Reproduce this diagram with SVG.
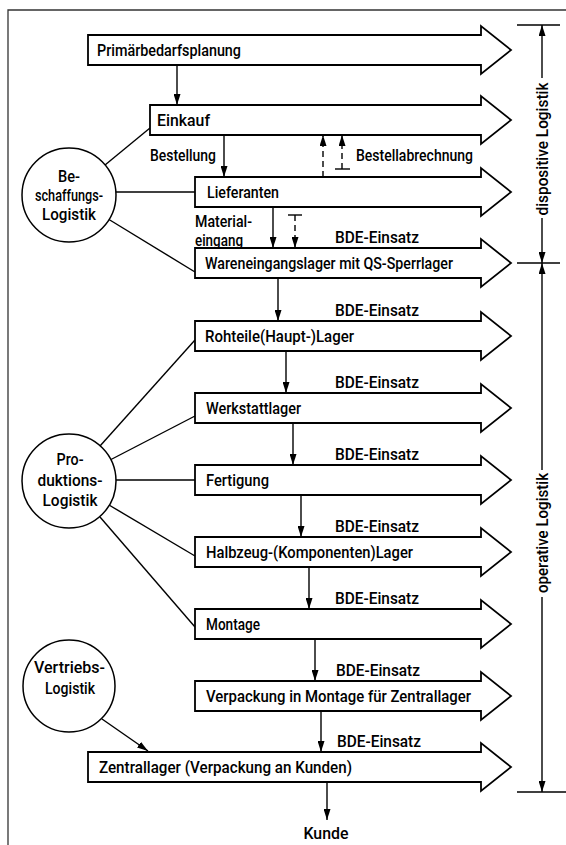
<svg xmlns="http://www.w3.org/2000/svg" width="566" height="845" viewBox="0 0 566 845">
<defs>
<marker id="ah" viewBox="0 0 11 7" refX="11" refY="3.5" markerWidth="11" markerHeight="7" markerUnits="userSpaceOnUse" orient="auto" preserveAspectRatio="none">
<path d="M0,0 L11,3.5 L0,7 z" fill="#000"/>
</marker>
<style>
.t{font-family:Roboto,"Liberation Sans",Arial,sans-serif;font-weight:500;font-size:16.5px;fill:#000}
.m{text-anchor:middle}
.box{fill:#fff;stroke:#000;stroke-width:1.8;stroke-linejoin:miter}
.c{fill:#fff;stroke:#000;stroke-width:1.5}
.ln{fill:none;stroke:#000;stroke-width:1.4}
.ar{fill:none;stroke:#000;stroke-width:1.4;marker-end:url(#ah)}
.da{fill:none;stroke:#000;stroke-width:1.4;stroke-dasharray:6 4;marker-end:url(#ah)}
.fr{fill:none;stroke:#333;stroke-width:1.3}
</style>
</defs>
<rect width="566" height="845" fill="#fff"/>
<g id="frame">
<path class="fr" d="M8,845 V10 H566"/>
</g>
<g id="connectors">
<path class="ar" d="M177,65 V105"/>
<path class="ar" d="M224,135 V177"/>
<path class="da" d="M323,177 V135"/>
<path class="da" d="M342,169 V135"/>
<path class="ln" d="M335,169 H350"/>
<path class="ar" d="M273,207 V248"/>
<path class="da" d="M295,215 V248"/>
<path class="ln" d="M288,215 H302"/>
<path class="ar" d="M278,278 V321"/>
<path class="ar" d="M286,351 V393"/>
<path class="ar" d="M293,423 V465"/>
<path class="ar" d="M301,495 V537"/>
<path class="ar" d="M309,567 V609"/>
<path class="ar" d="M315,639 V681"/>
<path class="ar" d="M321,711 V752"/>
<path class="ar" d="M327,782 V820"/>
<path class="ln" d="M105,165 L150,128"/>
<path class="ln" d="M116,192 H195"/>
<path class="ln" d="M109,219.5 L195,272"/>
<path class="ln" d="M100,446 L195,340"/>
<path class="ln" d="M111,459.5 L195,416"/>
<path class="ln" d="M116,480 H195"/>
<path class="ln" d="M109,505 L195,556"/>
<path class="ln" d="M100,517 L195,627"/>
<path class="ar" d="M102,719 L148,751"/>
</g>
<g id="labels">
<text class="t" x="150" y="160.5" textLength="66" lengthAdjust="spacingAndGlyphs">Bestellung</text>
<text class="t" x="356" y="160.5" textLength="117" lengthAdjust="spacingAndGlyphs">Bestellabrechnung</text>
<text class="t" x="195" y="226.5" textLength="57" lengthAdjust="spacingAndGlyphs">Material-</text>
<text class="t" x="195" y="245.5" textLength="48" lengthAdjust="spacingAndGlyphs">eingang</text>
<text class="t" x="335" y="243" textLength="84" lengthAdjust="spacingAndGlyphs">BDE-Einsatz</text>
<text class="t" x="335" y="316" textLength="84" lengthAdjust="spacingAndGlyphs">BDE-Einsatz</text>
<text class="t" x="335" y="388" textLength="84" lengthAdjust="spacingAndGlyphs">BDE-Einsatz</text>
<text class="t" x="335" y="460" textLength="84" lengthAdjust="spacingAndGlyphs">BDE-Einsatz</text>
<text class="t" x="335" y="532" textLength="84" lengthAdjust="spacingAndGlyphs">BDE-Einsatz</text>
<text class="t" x="335" y="604" textLength="84" lengthAdjust="spacingAndGlyphs">BDE-Einsatz</text>
<text class="t" x="336" y="676" textLength="84" lengthAdjust="spacingAndGlyphs">BDE-Einsatz</text>
<text class="t" x="337" y="747" textLength="84" lengthAdjust="spacingAndGlyphs">BDE-Einsatz</text>
<text class="t m" x="326" y="839" textLength="45" lengthAdjust="spacingAndGlyphs">Kunde</text>
</g>
<g id="n-primaer">
<path class="box" d="M88,35 H481 V26 L511,50 L481,74 V65 H88 Z"/>
<text class="t" x="97" y="55.8" textLength="144" lengthAdjust="spacingAndGlyphs">Primärbedarfsplanung</text>
</g>
<g id="n-einkauf">
<path class="box" d="M150,105 H481 V96 L511,120 L481,144 V135 H150 Z"/>
<text class="t" x="157" y="125.8" textLength="53" lengthAdjust="spacingAndGlyphs">Einkauf</text>
</g>
<g id="n-lieferanten">
<path class="box" d="M195,177 H481 V168 L511,192 L481,216 V207 H195 Z"/>
<text class="t" x="207" y="197.8" textLength="72" lengthAdjust="spacingAndGlyphs">Lieferanten</text>
</g>
<g id="n-wareneingang">
<path class="box" d="M195,248 H481 V239 L511,263 L481,287 V278 H195 Z"/>
<text class="t" x="205" y="268.8" textLength="248" lengthAdjust="spacingAndGlyphs">Wareneingangslager mit QS-Sperrlager</text>
</g>
<g id="n-rohteile">
<path class="box" d="M195,321 H481 V312 L511,336 L481,360 V351 H195 Z"/>
<text class="t" x="205" y="341.8" textLength="149" lengthAdjust="spacingAndGlyphs">Rohteile(Haupt-)Lager</text>
</g>
<g id="n-werkstatt">
<path class="box" d="M195,393 H481 V384 L511,408 L481,432 V423 H195 Z"/>
<text class="t" x="206" y="413.8" textLength="95" lengthAdjust="spacingAndGlyphs">Werkstattlager</text>
</g>
<g id="n-fertigung">
<path class="box" d="M195,465 H481 V456 L511,480 L481,504 V495 H195 Z"/>
<text class="t" x="206" y="485.8" textLength="63" lengthAdjust="spacingAndGlyphs">Fertigung</text>
</g>
<g id="n-halbzeug">
<path class="box" d="M195,537 H481 V528 L511,552 L481,576 V567 H195 Z"/>
<text class="t" x="206" y="557.8" textLength="207" lengthAdjust="spacingAndGlyphs">Halbzeug-(Komponenten)Lager</text>
</g>
<g id="n-montage">
<path class="box" d="M195,609 H481 V600 L511,624 L481,648 V639 H195 Z"/>
<text class="t" x="206" y="629.8" textLength="54" lengthAdjust="spacingAndGlyphs">Montage</text>
</g>
<g id="n-verpackung">
<path class="box" d="M195,681 H481 V672 L511,696 L481,720 V711 H195 Z"/>
<text class="t" x="206" y="701.8" textLength="265" lengthAdjust="spacingAndGlyphs">Verpackung in Montage für Zentrallager</text>
</g>
<g id="n-zentrallager">
<path class="box" d="M88,752 H481 V743 L511,767 L481,791 V782 H88 Z"/>
<text class="t" x="99" y="772.8" textLength="253" lengthAdjust="spacingAndGlyphs">Zentrallager (Verpackung an Kunden)</text>
</g>
<g id="n-beschaffung">
<circle class="c" cx="69" cy="195" r="47"/>
<text class="t m" x="69" y="181.8" textLength="22" lengthAdjust="spacingAndGlyphs">Be-</text>
<text class="t m" x="69" y="200.8" textLength="68" lengthAdjust="spacingAndGlyphs">schaffungs-</text>
<text class="t m" x="69" y="219.8" textLength="54" lengthAdjust="spacingAndGlyphs">Logistik</text>
</g>
<g id="n-produktion">
<circle class="c" cx="69" cy="481" r="47"/>
<text class="t m" x="70" y="464.8" textLength="27" lengthAdjust="spacingAndGlyphs">Pro-</text>
<text class="t m" x="70" y="485.8" textLength="65" lengthAdjust="spacingAndGlyphs">duktions-</text>
<text class="t m" x="70" y="505.8" textLength="55" lengthAdjust="spacingAndGlyphs">Logistik</text>
</g>
<g id="n-vertrieb">
<circle class="c" cx="69" cy="686" r="46"/>
<text class="t m" x="69.5" y="672.8" textLength="71" lengthAdjust="spacingAndGlyphs">Vertriebs-</text>
<text class="t m" x="70" y="693.8" textLength="50" lengthAdjust="spacingAndGlyphs">Logistik</text>
</g>
<g id="dimension">
<path class="ln" d="M517,25 H560"/>
<path class="ln" d="M517,263 H560"/>
<path class="ln" d="M517,792 H566"/>
<path class="ar" d="M542,78 V25"/>
<path class="ar" d="M542,218 V263"/>
<path class="ar" d="M542,470 V263"/>
<path class="ar" d="M542,597 V792"/>
<text class="t m" transform="translate(542,149) rotate(-90)" x="0" y="5.8" textLength="133" lengthAdjust="spacingAndGlyphs">dispositive Logistik</text>
<text class="t m" transform="translate(542,533) rotate(-90)" x="0" y="5.8" textLength="120" lengthAdjust="spacingAndGlyphs">operative Logistik</text>
</g>
</svg>
